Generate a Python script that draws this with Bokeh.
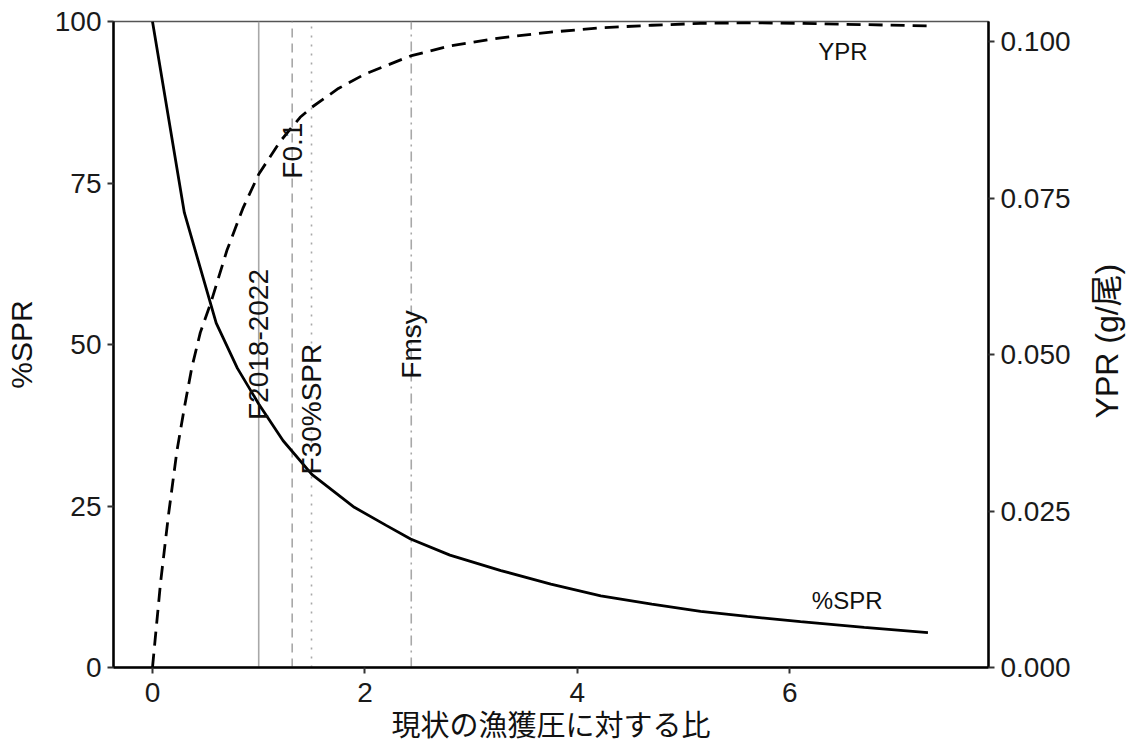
import math
from bokeh.plotting import figure
from bokeh.layouts import row
from bokeh.models import Range1d, LinearAxis, FixedTicker, NumeralTickFormatter
from bokeh.core.properties import value
from bokeh.embed import file_html
from bokeh.resources import INLINE

# ---- data ----
spr_x = [0, 0.3, 0.6, 0.8, 1.0, 1.23, 1.5, 1.9, 2.2, 2.43, 2.8, 3.28, 3.75, 4.22, 4.7, 5.16, 5.6, 6.1, 6.7, 7.3]
spr = [100, 70.4, 53.3, 46.3, 40.8, 35.1, 29.9, 24.8, 22.0, 19.9, 17.4, 15.0, 12.9, 11.1, 9.8, 8.7, 7.9, 7.1, 6.2, 5.4]

ypr_x = [0, 0.075, 0.15, 0.23, 0.3, 0.37, 0.45, 0.55, 0.7, 0.85, 1.0, 1.2, 1.39, 1.5, 1.75, 2.0,
         2.43, 2.8, 3.28, 3.75, 4.22, 4.7, 5.16, 5.6, 6.1, 6.7, 7.3]
ypr = [0, 0.0134, 0.0243, 0.0346, 0.0415, 0.0479, 0.0535, 0.0583, 0.0666, 0.0733, 0.0788, 0.0840,
       0.0879, 0.0895, 0.0925, 0.0948, 0.0977, 0.0993, 0.1006, 0.1015, 0.1022, 0.1026, 0.1029,
       0.1030, 0.1029, 0.1027, 0.1025]

ref_names = ["F2018-2022", "F0.1", "F30%SPR", "Fmsy"]
ref_x = [1.0, 1.315, 1.497, 2.436]
ref_label_y = [50, 80, 40, 50]
ref_dash = ["solid", "9 6", "2 7", "10 5 2 5"]

x_ticks = [0, 2, 4, 6]
spr_ticks = [0, 25, 50, 75, 100]
ypr_ticks = [0, 0.025, 0.05, 0.075, 0.1]

curve_labels = ["YPR", "%SPR"]
curve_label_x = [6.5, 6.54]
curve_label_y = [95.4, 10.3]

right_title = ["YPR (g/尾)"]

X_RANGE = (-0.367, 7.87)
Y_RANGE = (0, 100)
YPR_RANGE = (0, 0.1032)

# ---- main figure ----
H = 747
W_MAIN = 1085
p = figure(width=W_MAIN, height=H, output_backend="svg", toolbar_location=None,
           x_range=Range1d(*X_RANGE), y_range=Range1d(*Y_RANGE),
           min_border_left=113, min_border_top=21, min_border_right=W_MAIN - 988,
           min_border_bottom=80)
p.extra_y_ranges = {"ypr": Range1d(*YPR_RANGE)}
p.xgrid.visible = False
p.ygrid.visible = False
p.background_fill_color = "white"
p.border_fill_color = "white"
p.outline_line_color = "#555555"
p.outline_line_width = 1.5

right = LinearAxis(y_range_name="ypr")
p.add_layout(right, "right")

TICK_FONT = "Liberation Sans"
for ax in [p.xaxis[0], p.yaxis[0], right]:
    ax.axis_line_color = "black"
    ax.axis_line_width = 2.5
    ax.major_tick_line_color = "#333333"
    ax.major_tick_line_width = 2
    ax.major_tick_out = 6
    ax.major_tick_in = 0
    ax.minor_tick_line_color = None
    ax.major_label_text_font = TICK_FONT
    ax.major_label_text_font_size = "28px"
    ax.major_label_text_color = "#1a1a1a"
    ax.major_label_standoff = 6
    ax.axis_label_text_font_style = "normal"
    ax.axis_label_text_color = "#111111"
    ax.axis_label_text_font_size = "30px"

p.xaxis[0].ticker = FixedTicker(ticks=x_ticks)
p.yaxis[0].ticker = FixedTicker(ticks=spr_ticks)
right.ticker = FixedTicker(ticks=ypr_ticks)
right.formatter = NumeralTickFormatter(format="0.000")

p.xaxis[0].major_label_standoff = 9
p.xaxis[0].axis_label = "現状の漁獲圧に対する比"
p.xaxis[0].axis_label_text_font = "Noto Sans CJK JP"
p.xaxis[0].axis_label_text_font_size = "29px"
p.xaxis[0].axis_label_standoff = -3
p.yaxis[0].axis_label = "%SPR"
p.yaxis[0].axis_label_text_font = TICK_FONT
p.yaxis[0].axis_label_standoff = 14

# reference lines
for xv, d in zip(ref_x, ref_dash):
    p.segment(x0=[xv], y0=[Y_RANGE[0]], x1=[xv], y1=[Y_RANGE[1]], line_color="#a8a8a8",
              line_width=1.6, line_dash=d)

# curves
p.line(ypr_x, ypr, y_range_name="ypr", line_color="black", line_width=2.8, line_dash="14 8")
p.line(spr_x, spr, line_color="black", line_width=2.8)

# reference labels
p.text(x=ref_x, y=ref_label_y, text=ref_names, angle=math.pi / 2,
       text_align="center", text_baseline="middle", text_font=value(TICK_FONT),
       text_font_size="28px", text_color="#111111")

p.text(x=curve_label_x, y=curve_label_y, text=curve_labels,
       text_align="center", text_baseline="middle", text_font=value(TICK_FONT),
       text_font_size="24px", text_color="#111111")

# ---- narrow strip on the right holding the secondary-axis title (reads bottom-to-top) ----
W_SIDE = 46
s = figure(width=W_SIDE, height=H, output_backend="svg", toolbar_location=None,
           x_range=Range1d(0, W_SIDE), y_range=Range1d(0, H),
           x_axis_location=None, y_axis_location=None,
           min_border=0)
s.xgrid.visible = False
s.ygrid.visible = False
s.outline_line_color = None
s.background_fill_color = "white"
s.border_fill_color = "white"
s.text(x=[21], y=[288], text=right_title, angle=math.pi / 2,
       text_align="left", text_baseline="middle",
       text_font=value("Liberation Sans, Noto Sans CJK JP"),
       text_font_size="32px", text_color="#111111")

layout = row(p, s, spacing=0)
open("out.html", "w").write(file_html(layout, INLINE))
